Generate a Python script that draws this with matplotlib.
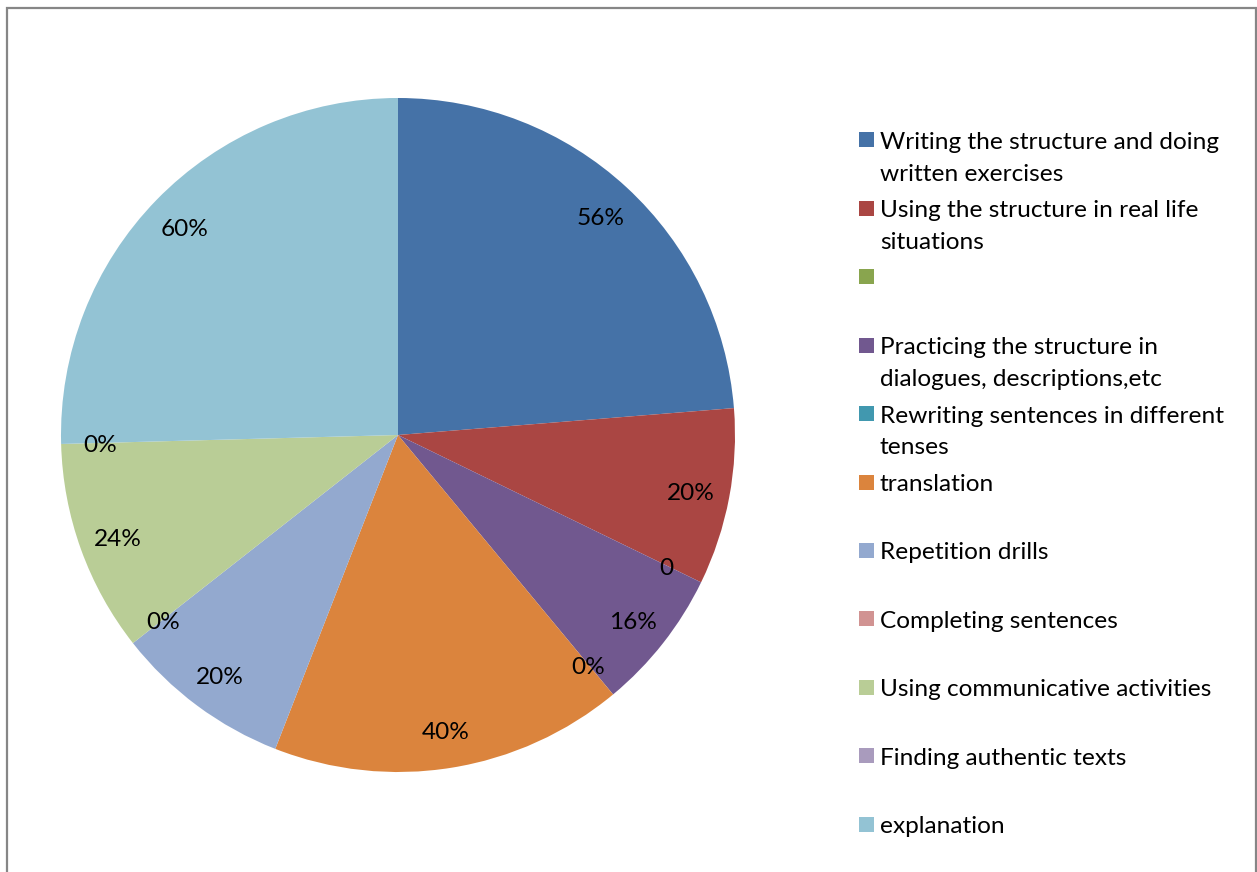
import matplotlib
matplotlib.use("Agg")
import matplotlib.pyplot as plt
from matplotlib.patches import Rectangle
from matplotlib.transforms import ScaledTranslation

W, H = 1257, 872

categories = [
    ["Writing the structure and doing", "written exercises"],
    ["Using the structure in real life", "situations"],
    [""],
    ["Practicing the structure in", "dialogues, descriptions,etc"],
    ["Rewriting sentences in different", "tenses"],
    ["translation"],
    ["Repetition drills"],
    ["Completing sentences"],
    ["Using communicative activities"],
    ["Finding authentic texts"],
    ["explanation"],
]
values = [56, 20, 0, 16, 0, 40, 20, 0, 24, 0, 60]
value_labels = ["56%", "20%", "0", "16%", "0%", "40%", "20%", "0%", "24%", "0%", "60%"]
colors = ["#4572A7", "#AA4643", "#89A54E", "#71588F", "#4198AF", "#DB843D",
          "#93A9CF", "#D19392", "#B9CD96", "#A99BBD", "#93C3D4"]

FONT = "Lato"
plt.rcParams['font.family'] = [FONT, 'DejaVu Sans']

fig = plt.figure(figsize=(W / 100, H / 100), dpi=100)
fig.patch.set_facecolor("white")

def fx(x):
    return x / W

def fy(y):
    return 1 - y / H

# fit font size so that the longest first legend line is ~340 px wide
renderer = fig.canvas.get_renderer()
probe = fig.text(0, 0, categories[0][0], fontsize=16)
wpx = probe.get_window_extent(renderer).width
probe.remove()
fs = 16 * 340.0 / wpx

# pie axes
cx, cy, r = 398, 435, 337
ax = fig.add_axes([fx(cx - r), fy(cy + r), 2 * r / W, 2 * r / H])
it = iter(value_labels)
wedges, _, autotexts = ax.pie(values, colors=colors, startangle=90, counterclock=False,
                              radius=1, autopct=lambda p: next(it), pctdistance=0.885,
                              wedgeprops=dict(linewidth=0),
                              textprops=dict(fontsize=fs, color="black"))
shift = ScaledTranslation(0, -3 / 100, fig.dpi_scale_trans)
for t in autotexts:
    t.set_transform(t.get_transform() + shift)
ax.set_xlim(-1, 1)
ax.set_ylim(-1, 1)
ax.set_aspect("auto")
ax.axis("off")

# legend (manual, Excel-like layout)
x_sq, x_txt = 859, 880
base0, entry_step, line_step = 149, 68.4, 31.7
sq = 15
for i, (lines, col) in enumerate(zip(categories, colors)):
    b = base0 + i * entry_step
    fig.patches.append(Rectangle((fx(x_sq), fy(b - 1.5)), sq / W, sq / H,
                                 transform=fig.transFigure, facecolor=col,
                                 edgecolor="none"))
    for j, ln in enumerate(lines):
        fig.text(fx(x_txt), fy(b + j * line_step), ln, fontsize=fs,
                 ha="left", va="baseline", color="black")

# chart border (bottom edge lies outside the image)
fig.patches.append(Rectangle((fx(6.5), fy(900)), (1255.5 - 6.5) / W, (900 - 8.5) / H,
                             transform=fig.transFigure, facecolor="none",
                             edgecolor="#868686", linewidth=1.6))

fig.savefig("out.png", dpi=100, facecolor="white")
